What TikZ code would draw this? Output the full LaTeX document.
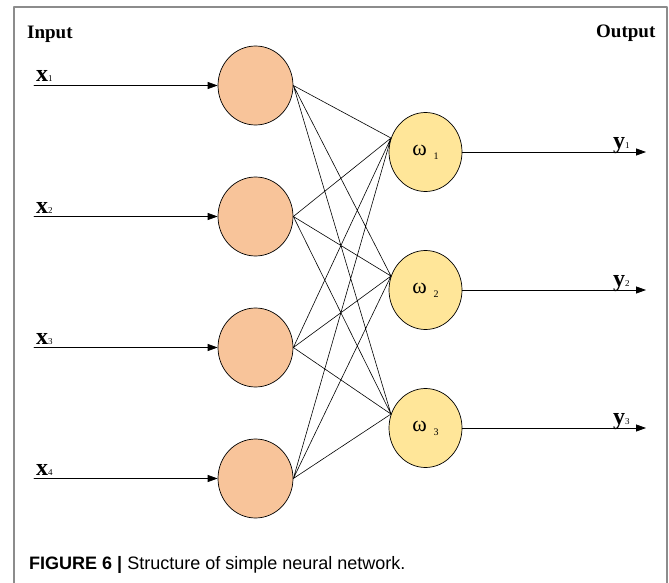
\documentclass[tikz,border=0pt]{standalone}
\usepackage{fontspec}
\setmainfont{Liberation Serif}
\newfontfamily\capfont{Liberation Sans}
\usetikzlibrary{shapes.geometric,arrows.meta}
\definecolor{inorange}{HTML}{F8C49A}
\definecolor{outyellow}{HTML}{FFE699}
\definecolor{framegray}{gray}{0.55}
\tikzset{
  innode/.style={ellipse, draw, fill=inorange, line width=0.7pt, inner sep=0pt, minimum width=75pt, minimum height=79pt},
  outnode/.style={ellipse, draw, fill=outyellow, line width=0.7pt, inner sep=0pt, minimum width=73pt, minimum height=79pt},
  sig/.style={line width=0.8pt, -{Triangle[length=10pt,width=7pt]}},
  lbl/.style={anchor=base west, inner sep=0pt}
}
\newcommand{\xlab}[1]{{\fontsize{24}{24}\selectfont\bfseries x}{\fontsize{9}{9}\selectfont #1}}
\newcommand{\ylab}[1]{{\fontsize{24}{24}\selectfont\bfseries y}{\fontsize{9}{9}\selectfont #1}}
\newcommand{\wlab}[1]{{\fontsize{22}{22}\selectfont ω}\hspace{7pt}\raisebox{-4pt}{\fontsize{10}{10}\selectfont #1}}
\begin{document}
\begin{tikzpicture}[x=1pt, y=-1pt, line join=round, line cap=round]
\useasboundingbox (0,0) rectangle (669,583);
% frame
\draw[framegray, line width=1.4pt] (14,583)--(14,7)--(667,7)--(667,583);
\node[lbl] (inp) at (27,38.5) {\fontsize{19}{19}\selectfont\bfseries Input};
\node[lbl] (outp) at (596,38) {\fontsize{19}{19}\selectfont\bfseries Output};
% input layer
\node[innode] (i1) at (255.5,85.5) {};
\node[innode] (i2) at (255.5,216.5) {};
\node[innode] (i3) at (255.5,347.5) {};
\node[innode] (i4) at (255.5,478.5) {};
% output layer
\node[outnode] (o1) at (425.5,152) {\wlab{1}};
\node[outnode] (o2) at (425.5,290) {\wlab{2}};
\node[outnode] (o3) at (425.5,428) {\wlab{3}};
% weights
\draw[line width=0.6pt] (i1.east)--(o1.158) (i1.east)--(o2.158) (i1.east)--(o3.158)
  (i2.east)--(o1.158) (i2.east)--(o2.158) (i2.east)--(o3.158)
  (i3.east)--(o1.158) (i3.east)--(o2.158) (i3.east)--(o3.158)
  (i4.east)--(o1.158) (i4.east)--(o2.158) (i4.east)--(o3.158);
% inputs
\coordinate (s1) at (34,85.5);
\coordinate (s2) at (34,216.5);
\coordinate (s3) at (34,347.5);
\coordinate (s4) at (34,478.5);
\draw[sig] (s1)--(i1.west);
\draw[sig] (s2)--(i2.west);
\draw[sig] (s3)--(i3.west);
\draw[sig] (s4)--(i4.west);
\node[lbl] (x1) at (36,82) {\xlab{1}};
\node[lbl] (x2) at (36,213) {\xlab{2}};
\node[lbl] (x3) at (36,344) {\xlab{3}};
\node[lbl] (x4) at (36,475) {\xlab{4}};
% outputs
\coordinate (e1) at (646,152);
\coordinate (e2) at (646,290);
\coordinate (e3) at (646,428);
\draw[sig] (o1.east)--(e1);
\draw[sig] (o2.east)--(e2);
\draw[sig] (o3.east)--(e3);
\node[lbl] (y1) at (613,148.5) {\ylab{1}};
\node[lbl] (y2) at (613,286.5) {\ylab{2}};
\node[lbl] (y3) at (613,424.5) {\ylab{3}};
% caption
\node[lbl] (cap) at (29,569) {\capfont\fontsize{18}{18}\selectfont\textbf{FIGURE 6 |} Structure of simple neural network.};
\end{tikzpicture}
\end{document}
